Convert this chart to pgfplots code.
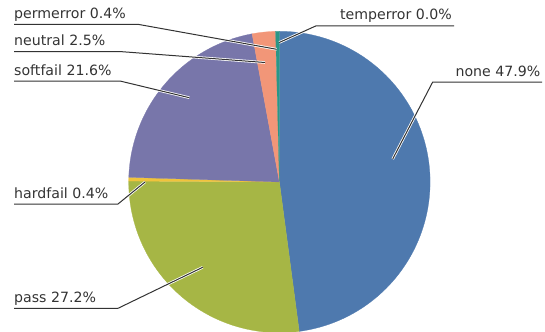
\documentclass[border=0pt]{standalone}
\usepackage{pgfplots}
\pgfplotsset{compat=1.18}
\usepackage{fontspec}
\setmainfont{DejaVu Sans}
\definecolor{cnone}{HTML}{4E79AE}
\definecolor{cpass}{HTML}{A6B645}
\definecolor{chard}{HTML}{F0C33C}
\definecolor{csoft}{HTML}{7876AA}
\definecolor{cneut}{HTML}{F29678}
\definecolor{cperm}{HTML}{2A9687}
\definecolor{ctemp}{HTML}{9C6FB0}
\definecolor{ctxt}{HTML}{333333}
% slice: cumulative start %, cumulative end %, colour
\newcommand{\pieslice}[3]{%
  \addplot[fill=#3, draw=#3, line width=0.25pt, domain=#1:#2, samples=120, variable=\t]
    ({279.4+150.7*sin(3.6*\t)},{182-150.7*cos(3.6*\t)}) -- (axis cs:279.4,182) -- cycle;}
\newcommand{\leader}[3]{%
  \draw[white, line width=2.6bp, line join=round] (axis cs:#1) -- (axis cs:#2) -- (axis cs:#3);
  \draw[ctxt, line width=1bp, line join=round] (axis cs:#1) -- (axis cs:#2) -- (axis cs:#3);}
\begin{document}
\begin{tikzpicture}
\begin{axis}[scale only axis, width=545bp, height=332bp,
  xmin=0, xmax=545, ymin=0, ymax=332, y dir=reverse, hide axis]
% values: none 47.9, pass 27.2, hardfail 0.4, softfail 21.6, neutral 2.5, permerror 0.4, temperror 0.0
\pieslice{0}{47.9}{cnone}
\pieslice{47.9}{75.1}{cpass}
\pieslice{75.1}{75.5}{chard}
\pieslice{75.5}{97.1}{csoft}
\pieslice{97.1}{99.6}{cneut}
\pieslice{99.6}{100}{cperm}
\leader{14,24.5}{139,24.5}{276.7,49.3}
\leader{14,51.7}{122,51.7}{265,62.5}
\leader{14,81}{120,81}{189.3,97.7}
\leader{14,204}{118,204}{145,182}
\leader{14,308.3}{118,308.3}{202.7,267.3}
\leader{454,26}{315.7,26}{279.2,42.5}
\leader{542,82}{432.7,82}{392.7,159}
\begin{scope}[every node/.style={font=\fontsize{14.2}{17}\selectfont, text=ctxt, inner sep=0pt}]
\node[anchor=base west] at (axis cs:14,18.5) {permerror 0.4\%};
\node[anchor=base west] at (axis cs:14,45.7) {neutral 2.5\%};
\node[anchor=base west] at (axis cs:14,75) {softfail 21.6\%};
\node[anchor=base west] at (axis cs:14,198) {hardfail 0.4\%};
\node[anchor=base west] at (axis cs:14,302.3) {pass 27.2\%};
\node[anchor=base east] at (axis cs:452,20) {temperror 0.0\%};
\node[anchor=base east] at (axis cs:540.5,76) {none 47.9\%};
\end{scope}
\end{axis}
\pgfresetboundingbox
\path (current axis.south west) rectangle (current axis.north east);
\end{tikzpicture}
\end{document}
